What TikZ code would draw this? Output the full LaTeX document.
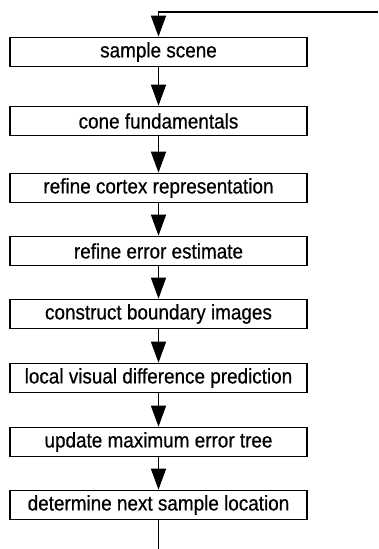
\documentclass[tikz,border=0pt]{standalone}
\usepackage{fontspec}
\setmainfont{Liberation Sans}
\newfontfamily\etapafont[FakeStretch=0.9,FakeBold=0.6]{Liberation Sans}
\usetikzlibrary{arrows.meta}
\tikzset{
  etapa/.style={draw, black, line width=1.6pt, minimum width=297pt, minimum height=29pt, inner sep=0pt, font=\etapafont\fontsize{21}{24}\selectfont},
  seta/.style={line width=1.3pt, -{Triangle[length=21pt,width=15pt,fill=black]}}
}
\begin{document}
\begin{tikzpicture}[x=1pt,y=-1pt]
%\draw [lightgray](0,0) grid (378,549);
\useasboundingbox (0,0) rectangle (378,549);

\node [etapa] (sample)    at (158.5, 52){sample scene};
\node [etapa] (cone)      at (158.5,121){cone fundamentals};
\node [etapa] (cortex)    at (158.5,188){refine cortex representation};
\node [etapa] (erro)      at (158.5,251){refine error estimate};
\node [etapa] (boundary)  at (158.5,314){construct boundary images};
\node [etapa] (local)     at (158.5,378){local visual difference prediction};
\node [etapa] (tree)      at (158.5,442){update maximum error tree};
\node [etapa] (next)      at (158.5,505){determine next sample location};

\coordinate (retorno) at (378,12);
\coordinate (saida)   at (158.5,549);

\draw [seta] (retorno) -| (sample);
\draw [seta] (sample) -- (cone);
\draw [seta] (cone) -- (cortex);
\draw [seta] (cortex) -- (erro);
\draw [seta] (erro) -- (boundary);
\draw [seta] (boundary) -- (local);
\draw [seta] (local) -- (tree);
\draw [seta] (tree) -- (next);
\draw [line width=1.3pt] (next) -- (saida);
\end{tikzpicture}
\end{document}
